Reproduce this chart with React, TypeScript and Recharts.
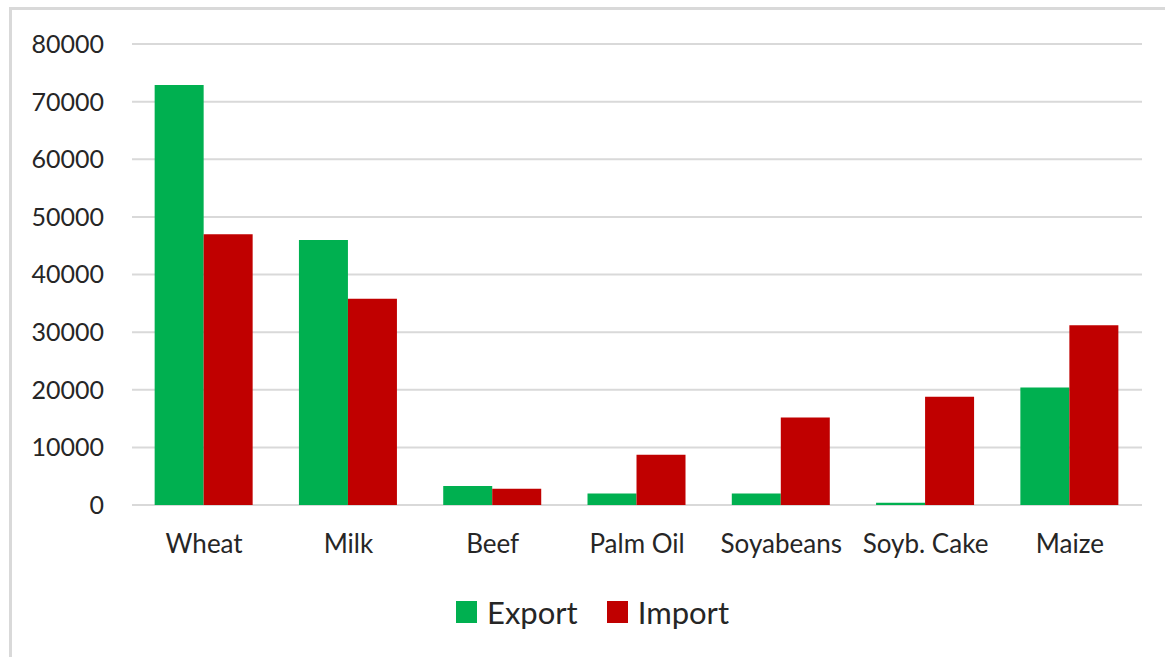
import { BarChart, Bar, XAxis, YAxis, CartesianGrid, Legend } from 'recharts';

const categories = ['Wheat', 'Milk', 'Beef', 'Palm Oil', 'Soyabeans', 'Soyb. Cake', 'Maize'];
const exportValues = [72900, 46000, 3300, 2000, 2000, 400, 20400];
const importValues = [47000, 35800, 2800, 8700, 15200, 18800, 31200];
const yTicks = [0, 10000, 20000, 30000, 40000, 50000, 60000, 70000, 80000];

const GREEN = '#00B050';
const RED = '#C00000';
const FONT = 'Lato, "Open Sans", sans-serif';

const data = categories.map((name, i) => ({
  name,
  Export: exportValues[i],
  Import: importValues[i],
}));

function LegendContent({ payload }: any) {
  return (
    <div style={{ display: 'flex', alignItems: 'center', fontFamily: FONT, fontSize: 31, lineHeight: '36px', color: '#262626' }}>
      {(payload || []).map((p: any, i: number) => (
        <div key={p.value} style={{ display: 'flex', alignItems: 'center', marginLeft: i === 0 ? 0 : 29 }}>
          <div style={{ width: 21, height: 22, background: p.color, marginRight: 10 }} />
          <span>{p.value}</span>
        </div>
      ))}
    </div>
  );
}

export default function App() {
  return (
    <div style={{ position: 'absolute', left: 0, top: 0, width: 1165, height: 657, background: '#fff', overflow: 'hidden' }}>
      <div
        style={{
          position: 'absolute',
          left: 9,
          top: 7,
          width: 1300,
          height: 800,
          borderTop: '3px solid #d9d9d9',
          borderLeft: '3px solid #d9d9d9',
        }}
      />
      <div style={{ position: 'absolute', left: 0, top: 0 }}>
        <BarChart
          width={1165}
          height={657}
          data={data}
          margin={{ top: 44, right: 23, left: 0, bottom: 0 }}
          barGap={0}
          barCategoryGap="15.7%"
        >
          <CartesianGrid vertical={false} stroke="#d9d9d9" strokeWidth={2} />
          <XAxis
            dataKey="name"
            axisLine={false}
            tickLine={false}
            tickSize={0}
            tickMargin={30}
            height={116}
            interval={0}
            tick={{ fill: '#262626', fontSize: 26, fontFamily: FONT }}
          />
          <YAxis
            width={132}
            domain={[0, 80000]}
            ticks={yTicks}
            axisLine={false}
            tickLine={false}
            tickSize={0}
            tickMargin={28}
            tick={{ fill: '#262626', fontSize: 25, fontFamily: FONT }}
          />
          <Legend
            content={<LegendContent />}
            height={36}
            wrapperStyle={{ left: 456, top: 594, width: 'auto', bottom: 'auto' }}
          />
          <Bar dataKey="Export" fill={GREEN} isAnimationActive={false} />
          <Bar dataKey="Import" fill={RED} isAnimationActive={false} />
        </BarChart>
      </div>
    </div>
  );
}
